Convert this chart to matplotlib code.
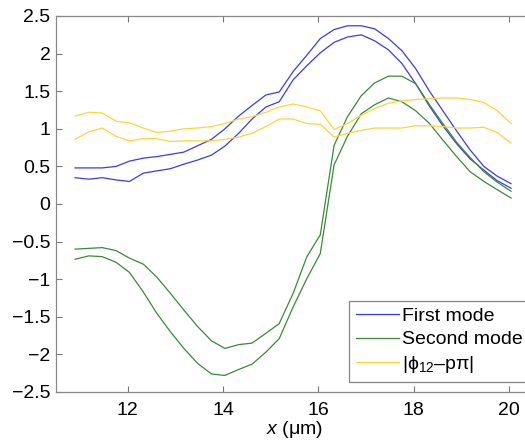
import numpy as np
import matplotlib
matplotlib.use("Agg")
import matplotlib.pyplot as plt

plt.rcParams['font.family'] = ['Liberation Sans', 'DejaVu Sans']
plt.rcParams['mathtext.fontset'] = 'custom'
plt.rcParams['mathtext.rm'] = 'Liberation Sans'
plt.rcParams['mathtext.it'] = 'Liberation Sans:italic'

# positions (um)
x = [10.90, 11.19, 11.47, 11.76, 12.04, 12.33, 12.61, 12.90, 13.18, 13.47, 13.76,
     14.04, 14.33, 14.61, 14.90, 15.18, 15.47, 15.76, 16.04, 16.33, 16.61, 16.90,
     17.18, 17.47, 17.75, 18.04, 18.33, 18.61, 18.90, 19.18, 19.47, 19.75, 20.04]

first_a = [0.48, 0.48, 0.48, 0.50, 0.57, 0.61, 0.63, 0.66, 0.69, 0.775, 0.86,
           1.00, 1.17, 1.31, 1.45, 1.49, 1.76, 1.98, 2.20, 2.32, 2.37, 2.37,
           2.33, 2.20, 2.04, 1.80, 1.50, 1.24, 0.97, 0.72, 0.50, 0.37, 0.27]
first_b = [0.35, 0.33, 0.35, 0.32, 0.30, 0.41, 0.44, 0.47, 0.53, 0.585, 0.65,
           0.77, 0.94, 1.13, 1.29, 1.36, 1.65, 1.84, 2.01, 2.15, 2.22, 2.25,
           2.17, 2.05, 1.87, 1.60, 1.30, 1.04, 0.80, 0.60, 0.45, 0.31, 0.21]

second_a = [-0.60, -0.59, -0.58, -0.62, -0.72, -0.80, -0.97, -1.19, -1.41, -1.63, -1.82,
            -1.92, -1.87, -1.85, -1.72, -1.59, -1.19, -0.70, -0.41, 0.78, 1.16, 1.44,
            1.61, 1.70, 1.70, 1.60, 1.32, 1.07, 0.82, 0.62, 0.43, 0.29, 0.17]
second_b = [-0.735, -0.69, -0.70, -0.775, -0.91, -1.17, -1.45, -1.70, -1.92, -2.12, -2.26,
            -2.28, -2.20, -2.13, -1.97, -1.79, -1.37, -0.99, -0.66, 0.52, 0.90, 1.20,
            1.32, 1.41, 1.36, 1.24, 1.07, 0.85, 0.63, 0.43, 0.30, 0.19, 0.08]

phase_a = [1.17, 1.22, 1.21, 1.10, 1.08, 1.01, 0.95, 0.97, 1.00, 1.01, 1.03,
           1.07, 1.13, 1.16, 1.22, 1.29, 1.33, 1.29, 1.24, 0.99, 1.07, 1.18,
           1.27, 1.34, 1.37, 1.39, 1.40, 1.41, 1.41, 1.39, 1.35, 1.24, 1.07]
phase_b = [0.86, 0.96, 1.01, 0.90, 0.84, 0.87, 0.87, 0.83, 0.84, 0.84, 0.84,
           0.86, 0.89, 0.94, 1.03, 1.13, 1.13, 1.07, 1.06, 0.89, 0.94, 0.98,
           1.01, 1.01, 1.01, 1.04, 1.04, 1.03, 1.01, 1.01, 1.02, 0.95, 0.81]

c_blue = '#3c3ce6'
c_green = '#3a8a3a'
c_yellow = '#ffd43a'
lw = 0.9
fs = 14

fig = plt.figure(figsize=(5.25, 4.43), dpi=100)
ax = fig.add_axes([56/525, 51/443, 477/525, 376/443])

ax.plot(x, first_a, color=c_blue, lw=lw, label='First mode')
ax.plot(x, first_b, color=c_blue, lw=lw)
ax.plot(x, second_a, color=c_green, lw=lw, label='Second mode')
ax.plot(x, second_b, color=c_green, lw=lw)
ax.plot(x, phase_a, color=c_yellow, lw=lw, label=r'|$\mathregular{\phi_{12}}$–p$\mathregular{\pi}$|')
ax.plot(x, phase_b, color=c_yellow, lw=lw)

ax.set_xlim(10.5, 20.5)
ax.set_ylim(-2.5, 2.5)
ax.set_xticks([12, 14, 16, 18, 20])
ax.set_yticks(np.arange(-2.5, 2.51, 0.5))
ax.set_yticklabels(['−2.5', '−2', '−1.5', '−1', '−0.5', '0', '0.5', '1', '1.5', '2', '2.5'])
ax.tick_params(direction='in', top=True, right=True, length=4, width=0.8,
               color='#777777', labelsize=fs)
ax.tick_params(axis='x', pad=7)
ax.tick_params(axis='y', pad=4)
for s in ax.spines.values():
    s.set_color('#888888')
    s.set_linewidth(0.9)

ax.set_xlabel(r'$\mathit{x}$ (μm)', fontsize=fs, labelpad=0)

leg = ax.legend(loc='lower left', bbox_to_anchor=(349/525, 61/443),
                bbox_transform=fig.transFigure, fontsize=fs, fancybox=False,
                handlelength=2.2, handletextpad=0.2, labelspacing=0.3,
                borderpad=0.35, borderaxespad=0)
leg.get_frame().set_edgecolor('#666666')
leg.get_frame().set_linewidth(0.9)

fig.savefig('out.png', dpi=100)
